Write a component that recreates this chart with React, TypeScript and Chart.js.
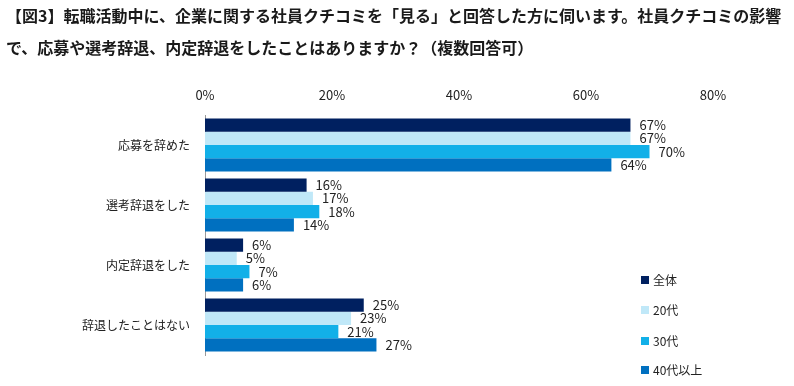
import React, { useEffect, useRef } from "react";
import { Chart, registerables } from "chart.js";

Chart.register(...registerables);

const titleLines = [
  "【図3】転職活動中に、企業に関する社員クチコミを「見る」と回答した方に伺います。社員クチコミの影響",
  "で、応募や選考辞退、内定辞退をしたことはありますか？（複数回答可）",
];
const categories = ["応募を辞めた", "選考辞退をした", "内定辞退をした", "辞退したことはない"];
const seriesNames = ["全体", "20代", "30代", "40代以上"];
const allValues = [67, 16, 6, 25];
const twentiesValues = [67, 17, 5, 23];
const thirtiesValues = [70, 18, 7, 21];
const fortiesValues = [64, 14, 6, 27];
const seriesColors = ["#002060", "#C0E8F8", "#12B0E8", "#0070C0"];
const xTicks = [0, 20, 40, 60, 80];

const FONT = '"Noto Sans CJK JP", "Noto Sans", sans-serif';

export default function App() {
  const ref = useRef<HTMLCanvasElement | null>(null);
  useEffect(() => {
    if (!ref.current) return;
    const extras = {
      id: "extras",
      afterDraw(chart: any) {
        const ctx = chart.ctx;
        ctx.save();
        // title
        ctx.fillStyle = "#1a1a1a";
        ctx.font = `bold 16px ${FONT}`;
        ctx.textBaseline = "middle";
        ctx.textAlign = "left";
        ctx.fillText(titleLines[0], 6, 16);
        ctx.fillText(titleLines[1], 6, 48);
        // data labels
        ctx.font = `13px ${FONT}`;
        ctx.fillStyle = "#222";
        chart.data.datasets.forEach((ds: any, i: number) => {
          const meta = chart.getDatasetMeta(i);
          meta.data.forEach((el: any, j: number) => {
            ctx.fillText(ds.data[j] + "%", el.x + 9, el.y);
          });
        });
        // legend
        ctx.font = `12px ${FONT}`;
        const lx = 641;
        const ly = [280, 310, 341, 370];
        chart.data.datasets.forEach((ds: any, i: number) => {
          ctx.fillStyle = ds.backgroundColor;
          ctx.fillRect(lx, ly[i] - 4, 8, 8);
          ctx.fillStyle = "#222";
          ctx.fillText(ds.label, lx + 12, ly[i]);
        });
        ctx.restore();
      },
    };
    const chart = new Chart(ref.current, {
      type: "bar",
      data: {
        labels: categories,
        datasets: [allValues, twentiesValues, thirtiesValues, fortiesValues].map((d, i) => ({
          label: seriesNames[i],
          data: d,
          backgroundColor: seriesColors[i],
          borderWidth: 0,
          categoryPercentage: 0.885,
          barPercentage: 1,
        })),
      },
      options: {
        indexAxis: "y",
        responsive: false,
        animation: false,
        layout: { padding: { top: 80, left: 0, right: 81, bottom: 31 } },
        plugins: {
          legend: { display: false },
          title: { display: false },
          tooltip: { enabled: false },
        },
        scales: {
          x: {
            position: "top",
            min: 0,
            max: 80,
            afterBuildTicks: (scale: any) => {
              scale.ticks = xTicks.map((v) => ({ value: v }));
            },
            afterFit: (scale: any) => {
              scale.height = 35;
            },
            grid: { display: false, drawTicks: false },
            border: { display: false },
            ticks: {
              padding: 12,
              color: "#222",
              font: { family: FONT, size: 13 },
              callback: (v: any) => v + "%",
            },
          },
          y: {
            afterFit: (scale: any) => {
              scale.width = 205;
            },
            grid: { display: false, drawTicks: false },
            border: { display: true, color: "#999", width: 1 },
            ticks: {
              padding: 15,
              color: "#222",
              font: { family: FONT, size: 12 },
            },
          },
        },
      },
      plugins: [extras],
    } as any);
    return () => chart.destroy();
  }, []);
  return (
    <div style={{ position: "absolute", left: 0, top: 0, width: 794, height: 386, background: "#fff" }}>
      <canvas ref={ref} width={794} height={386} />
    </div>
  );
}
